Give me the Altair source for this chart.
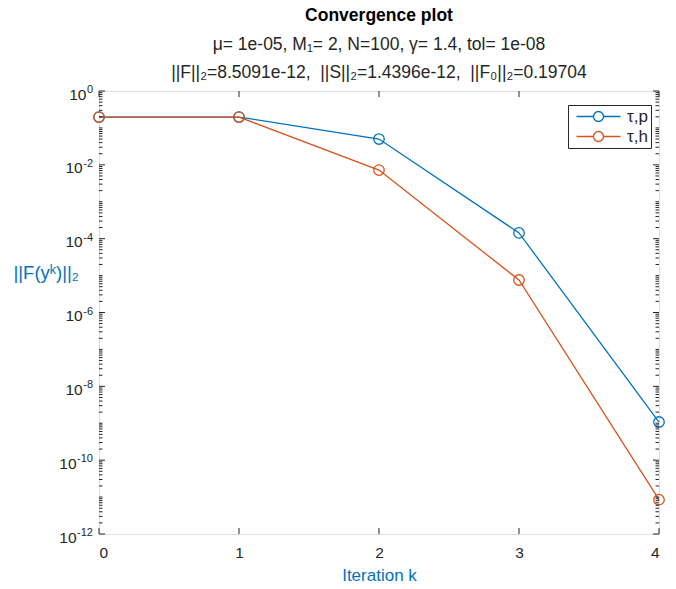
import altair as alt
import pandas as pd

# ---- data ----
iterations = [0, 1, 2, 3, 4]
series_names = ["τ,p", "τ,h"]
res_tau_p = [0.19704, 0.19704, 0.050, 1.43e-4, 1.08e-9]
res_tau_h = [0.19704, 0.19704, 7.2e-3, 7.6e-6, 8.5091e-12]

y_major_ticks = [1, 1e-2, 1e-4, 1e-6, 1e-8, 1e-10, 1e-12]
y_tick_exponents = ["0", "-2", "-4", "-6", "-8", "-10", "-12"]
y_minor_ticks = [m * 10.0 ** k for k in range(-12, 0) for m in range(2, 10)] + \
                [1e-1, 1e-3, 1e-5, 1e-7, 1e-9, 1e-11]
x_ticks = [0, 1, 2, 3, 4]

NB = "\u00a0"
title_main = "Convergence plot"
subtitle_lines = [
    "μ= 1e-05, M₁= 2, N=100, γ= 1.4, tol= 1e-08",
    "||F||₂=8.5091e-12," + NB + " ||S||₂=1.4396e-12," + NB + " ||F₀||₂=0.19704",
]
x_title = "Iteration k"
y_title = "||F(yᵏ)||₂"

# ---- styling ----
FONT = "Liberation Sans"
AX = "#262626"
BLUE = "#0072BD"
ORANGE = "#D95319"
W, H = 560, 443
EXP_SIZE = 11
LAB_SIZE = 15.5

df = pd.DataFrame({
    "k": iterations * 2,
    "res": res_tau_p + res_tau_h,
    "series": [series_names[0]] * len(iterations) + [series_names[1]] * len(iterations),
})

yscale = alt.Scale(type="log", domain=[1e-12, 1], nice=False)
xscale = alt.Scale(domain=[0, 4], nice=False, zero=False)

xaxis = alt.Axis(
    values=x_ticks, format="d", ticks=False, domain=False, grid=False,
    labelFontSize=LAB_SIZE, labelColor=AX, labelFont=FONT, labelPadding=11,
    title=x_title, titleColor=BLUE, titleFont=FONT, titleFontSize=17,
    titleFontWeight="normal", titlePadding=7)
yaxis = alt.Axis(
    values=y_major_ticks, labels=False, ticks=False, domain=False, grid=False,
    title=y_title, titleColor=BLUE, titleFont=FONT, titleFontSize=18.5,
    titleFontWeight="normal", titleAngle=0, titleAlign="left",
    titleBaseline="alphabetic", titleX=-86, titleY=187)

legend_path = "M-0.6,0H2.8M4.8,0H8.2M4.8,0A1,1,0,1,1,2.8,0A1,1,0,1,1,4.8,0"

lines = alt.Chart(df).mark_line(
    strokeWidth=1.3,
    point=alt.OverlayMarkDef(filled=False, size=110, strokeWidth=1.3),
).encode(
    x=alt.X("k:Q", scale=xscale, axis=xaxis, title=x_title),
    y=alt.Y("res:Q", scale=yscale, axis=yaxis, title=y_title),
    color=alt.Color("series:N", sort=series_names,
                    scale=alt.Scale(domain=series_names, range=[BLUE, ORANGE]),
                    legend=alt.Legend(
                        title=None, orient="none", legendX=469, legendY=14,
                        strokeColor=AX, fillColor="white", padding=3,
                        symbolType=legend_path, symbolSize=100,
                        symbolStrokeWidth=1.3, symbolFillColor="transparent",
                        labelFont=FONT, labelFontSize=17, labelColor=AX,
                        labelExpr="datum.label + '\u00a0'",
                        labelOffset=39, rowPadding=2)),
)

ymaj = pd.DataFrame({"res": y_major_ticks})
ymin = pd.DataFrame({"res": y_minor_ticks})
xt = pd.DataFrame({"k": x_ticks})
ylab = pd.DataFrame({"res": y_major_ticks, "exp": y_tick_exponents})

def ytick(data, x1, x2):
    return alt.Chart(data).mark_rule(color=AX, strokeWidth=1).encode(
        y=alt.Y("res:Q", scale=yscale, axis=yaxis, title=y_title),
        x=alt.value(x1), x2=alt.value(x2))

def xtick(y1, y2):
    return alt.Chart(xt).mark_rule(color=AX, strokeWidth=1).encode(
        x=alt.X("k:Q", scale=xscale, axis=xaxis, title=x_title),
        y=alt.value(y1), y2=alt.value(y2))

ticks = [
    ytick(ymaj, 0, 6), ytick(ymin, 0, 3.5),
    ytick(ymaj, W, W - 6), ytick(ymin, W, W - 3.5),
    xtick(H, H - 6), xtick(0, 6),
]

# y tick labels drawn as "10" with a raised exponent
LABEL_RIGHT = -6
exp_layer = alt.Chart(ylab).mark_text(
    align="right", baseline="middle", dy=-1, font=FONT, fontSize=EXP_SIZE, color=AX
).encode(
    y=alt.Y("res:Q", scale=yscale, axis=yaxis, title=y_title),
    x=alt.value(LABEL_RIGHT), text="exp:N")

def exp_width(s):
    return sum(0.333 * EXP_SIZE if ch == "-" else 0.556 * EXP_SIZE for ch in s)

base_layers = []
for n in sorted(set(len(e) for e in y_tick_exponents)):
    sample = [e for e in y_tick_exponents if len(e) == n][0]
    base_layers.append(
        alt.Chart(ylab).transform_filter(f"length(datum.exp) == {n}").mark_text(
            align="right", baseline="middle", dy=3.5, dx=-(exp_width(sample) + 0.5),
            font=FONT, fontSize=LAB_SIZE, color=AX
        ).encode(
            y=alt.Y("res:Q", scale=yscale, axis=yaxis, title=y_title),
            x=alt.value(LABEL_RIGHT), text=alt.value("10"))
    )

chart = alt.layer(lines, *ticks, exp_layer, *base_layers).properties(
    width=W, height=H,
    title=alt.TitleParams(
        text=title_main, subtitle=subtitle_lines, anchor="middle",
        font=FONT, fontSize=17.5, fontWeight="bold", color="black",
        subtitleFont=FONT, subtitleFontSize=17.5, subtitleColor=AX,
        subtitleLineHeight=28, subtitlePadding=11, offset=3),
    autosize=alt.AutoSizeParams(type="none"),
    padding={"left": 99, "top": 91, "right": 17, "bottom": 55},
).configure_view(stroke=AX, strokeWidth=1).configure(background="white")

chart.save("out.html", embed_options={"renderer": "svg", "actions": False})
